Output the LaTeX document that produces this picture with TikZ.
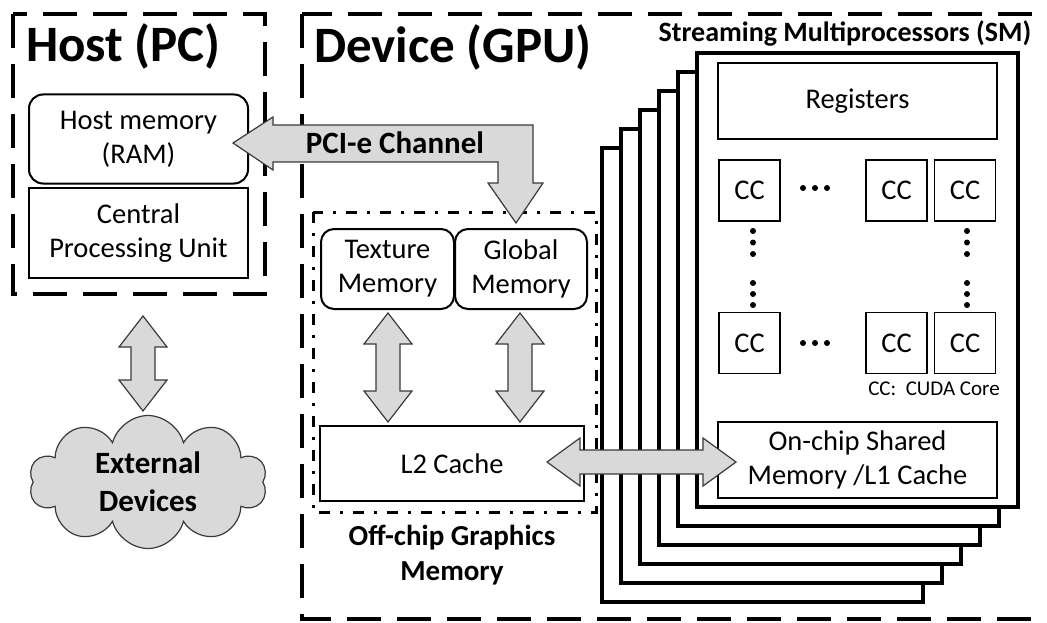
\documentclass[tikz,border=0pt]{standalone}
\usepackage{fontspec}
\setmainfont{Carlito}
\usetikzlibrary{calc,shapes.symbols}

\definecolor{arrowgray}{HTML}{D9D9D9}
\definecolor{edgegray}{HTML}{3A3A3A}

\tikzset{
  outerbox/.style={draw, line width=4pt, dash pattern=on 34pt off 16pt},
  offchipbox/.style={draw, line width=3pt, dash pattern=on 11pt off 10pt on 3pt off 10pt},
  membox/.style={draw, line width=2pt, inner sep=0pt, align=center,
    font=\fontsize{28.5}{34}\selectfont},
  roundbox/.style={membox, rounded corners=13pt},
  ccbox/.style={draw, line width=1.5pt, inner sep=0pt, minimum width=61pt,
    minimum height=61pt, font=\fontsize{28.5}{34}\selectfont},
  smcard/.style={draw, line width=4pt, fill=white},
  blockarrow/.style={draw=edgegray, line width=1.2pt, fill=arrowgray, line join=miter},
  title/.style={font=\fontsize{51}{58}\bfseries\selectfont, inner sep=0pt},
  boldlabel/.style={font=\fontsize{29}{35}\bfseries\selectfont, align=center, inner sep=0pt},
  dotmark/.style={fill=black}
}

% vertical double-headed block arrow between two tips (top, bottom)
\newcommand\vblock[2]{%
  \draw[blockarrow] (#1) -- ($(#1)+(24,31)$) -- ($(#1)+(12,31)$)
    -- ($(#2)+(12,-31)$) -- ($(#2)+(24,-31)$) -- (#2)
    -- ($(#2)+(-24,-31)$) -- ($(#2)+(-12,-31)$)
    -- ($(#1)+(-12,31)$) -- ($(#1)+(-24,31)$) -- cycle;}

% horizontal double-headed block arrow between two tips (left, right)
\newcommand\hblock[2]{%
  \draw[blockarrow] (#1) -- ($(#1)+(33,-24)$) -- ($(#1)+(33,-12)$)
    -- ($(#2)+(-33,-12)$) -- ($(#2)+(-33,-24)$) -- (#2)
    -- ($(#2)+(-33,24)$) -- ($(#2)+(-33,12)$)
    -- ($(#1)+(33,12)$) -- ($(#1)+(33,24)$) -- cycle;}

\begin{document}
\begin{tikzpicture}[x=1pt, y=-1pt]
  \useasboundingbox (0,0) rectangle (1047,623);
  \clip (0,0) rectangle (1047,623);

  % outer regions
  \draw[outerbox] (302,14) rectangle (1062,619);
  \draw[outerbox] (13,14) rectangle (265,294);

  \node[title, anchor=base west] (hosttitle) at (26,62) {Host (PC)};
  \node[title, anchor=base west] (devtitle) at (314,63) {Device (GPU)};

  % host side
  \node[roundbox, rounded corners=14pt, minimum width=219pt, minimum height=89pt]
    (hostmem) at (138.5,139) {Host memory\\(RAM)};
  \node[membox, minimum width=219pt, minimum height=90pt]
    (cpu) at (138.5,233) {Central\\Processing Unit};

  \node[cloud, cloud puffs=10, cloud ignores aspect, draw=edgegray, line width=1.2pt,
    fill=arrowgray, minimum width=238pt, minimum height=133pt, inner sep=0pt,
    font=\fontsize{31}{38}\bfseries\selectfont, align=center]
    (ext) at (148,482) {External\\Devices};

  % off-chip graphics memory
  \draw[offchipbox] (313,212) rectangle (596,512);
  \node[roundbox, minimum width=133pt, minimum height=80pt]
    (texmem) at (387.5,269) {Texture\\Memory};
  \node[roundbox, minimum width=132pt, minimum height=80pt]
    (globmem) at (521,269) {Global\\Memory};
  \node[membox, minimum width=264pt, minimum height=75pt]
    (l2) at (452,463.5) {L2 Cache};
  \node[boldlabel] (offchip) at (452,555) {Off-chip Graphics\\Memory};

  % streaming multiprocessors, back to front
  \foreach \k in {5,4,3,2,1} {
    \draw[smcard] (697-19*\k, 53+19*\k) rectangle (1018-19*\k, 507+19*\k);
  }
  \draw[smcard] (697,53) rectangle (1018,507);
  \node[font=\fontsize{28}{32}\bfseries\selectfont, inner sep=0pt]
    (smtitle) at (845,33) {Streaming Multiprocessors (SM)};

  \node[membox, line width=2.5pt, minimum width=279pt, minimum height=76pt]
    (regs) at (857.5,101) {Registers};
  \node[ccbox] (cc11) at (749.5,190.5) {CC};
  \node[ccbox] (cc12) at (896.5,190.5) {CC};
  \node[ccbox] (cc13) at (965,190.5) {CC};
  \node[ccbox] (cc21) at (749.5,343) {CC};
  \node[ccbox] (cc22) at (896.5,343) {CC};
  \node[ccbox] (cc23) at (965,343) {CC};

  \foreach \dx in {803,815,827} {
    \fill[dotmark] (\dx,188) circle (3pt);
    \fill[dotmark] (\dx,343) circle (3pt);
  }
  \foreach \dy in {231,242.5,254,283,294,305} {
    \fill[dotmark] (753,\dy) circle (3pt);
    \fill[dotmark] (967,\dy) circle (3pt);
  }
  \node[font=\fontsize{21}{24}\selectfont, inner sep=0pt] (cclegend) at (934,389) {CC:\ \ CUDA Core};

  \node[membox, minimum width=279pt, minimum height=76pt]
    (shared) at (857.5,460) {On-chip Shared\\Memory /L1 Cache};

  % data paths
  \coordinate (ext-top) at (143,316);
  \coordinate (ext-bot) at (143,411);
  \vblock{ext-top}{ext-bot}

  \coordinate (tex-top) at (388,313);
  \coordinate (tex-bot) at (388,422);
  \vblock{tex-top}{tex-bot}

  \coordinate (glob-top) at (520,313);
  \coordinate (glob-bot) at (520,422);
  \vblock{glob-top}{glob-bot}

  \coordinate (l2-tip) at (547,462);
  \coordinate (sh-tip) at (736,462);
  \hblock{l2-tip}{sh-tip}

  % PCI-e channel: bent double arrow from global memory up to host memory
  \coordinate (pci-l) at (233,143);
  \coordinate (pci-d) at (516,223);
  \draw[blockarrow] (pci-l) -- ($(pci-l)+(40,-26)$) -- ($(pci-l)+(40,-18)$)
    -| ($(pci-d)+(17,-40)$) -- ($(pci-d)+(27,-40)$) -- (pci-d)
    -- ($(pci-d)+(-28,-40)$) -- ($(pci-d)+(-18,-40)$)
    |- ($(pci-l)+(40,19)$) -- ($(pci-l)+(40,27)$) -- cycle;
  \node[font=\fontsize{31}{36}\bfseries\selectfont, inner sep=0pt]
    (pcilabel) at (395,143) {PCI-e Channel};
\end{tikzpicture}
\end{document}
